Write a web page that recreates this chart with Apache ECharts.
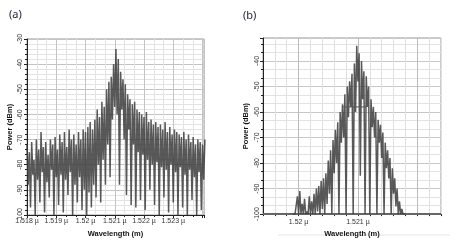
<!DOCTYPE html>
<html>
<head>
<meta charset="utf-8">
<script src="https://cdn.jsdelivr.net/npm/echarts@6/dist/echarts.min.js"></script>
<style>
  html, body { margin: 0; padding: 0; background: #fff; }
  #main { width: 461px; height: 243px; }
</style>
</head>
<body>
<div id="main"></div>
<script>
// panel (a): spectrum sampled from 1.518 µm, step 0.04 nm
var aStart = 1.518;
var aStep = 0.00004;
var aPower = [
  -72,-88,-75,-97,-71,-84,-78,-100,-70,-86,-74,-95,-67,-83,-73,-99,-71,-87,-76,-93,-70,-82,-72,-100,-69,-85,-74,
  -96,-68,-84,-71,-99,-67,-86,-73,-92,-66,-83,-70,-100,-68,-88,-72,-95,-67,-85,-70,-98,-66,-90,-67,
  -100,-65,-91,-63,-97,-66,-88,-62,
  -93,-58,-80,-61,-95,-55,-78,-57,
  -88,-50,-72,-47,-85,-45,
  -62,-40,-57,-34,-60,
  -38,-88,-43,-58,-46,-70,-48,
  -92,-52,-66,-54,-96,-56,-72,-55,-97,-58,-75,
  -59,-94,-60,-76,-61,-98,-59,-78,-63,-90,-62,-80,-64,-96,-63,
  -79,-65,-100,-64,-81,-66,-93,-63,-82,-67,-99,-65,-80,-68,-95,-66,-83,-67,-100,-68,
  -81,-69,-97,-67,-84,-70,-100,-68,-82,-71,-94,-69,-85,-72,-100,-70,-83,-71,-98,-72,-86,-70
];
var aTickLabels = ['1.518 µ', '1.519 µ', '1.52 µ', '1.521 µ', '1.522 µ', '1.523 µ'];
var aTickValues = [1.518, 1.519, 1.520, 1.521, 1.522, 1.523];

// panel (b): spectrum sampled from 1.5199 µm, step 0.02 nm
var bStart = 1.5199;
var bStep = 0.00002;
var bPower = [
  -100,-100,-100,-100,
  -93,-100,-91,-100,-96,-100,-94,-100,-99,-100,-93,
  -100,-95,-100,-92,-100,-90,-99,-89,-100,-87,-98,-86,-100,-84,-96,
  -79,-92,-75,-100,-71,-84,-67,-80,-64,-100,-60,
  -72,-57,-70,-53,-100,-50,-62,-48,-58,-45,
  -100,-41,-60,-34,-48,-37,-85,-40,-55,-44,-100,-46,
  -58,-50,-100,-55,-66,-58,-70,-60,-100,-63,-72,
  -65,-78,-68,-100,-72,-82,-75,-86,-78,-100,-82,-92,
  -86,-97,-90,-100,-95,-100,-98,-100,-100,-100
];
var bPlateauX = [1.52074, 1.52114];
var bPlateauY = [-58, -58];
var bFloor = -100;
var bTickLabels = ['1.52 µ', '1.521 µ'];
var bTickValues = [1.520, 1.521];

var yTicks = [-30, -40, -50, -60, -70, -80, -90, -100];

function toXY(start, step, vals) {
  return vals.map(function (v, i) { return [start + i * step, v]; });
}
function labelFor(values, labels) {
  return function (v) {
    for (var i = 0; i < values.length; i++) {
      if (Math.abs(v - values[i]) < 1e-7) return labels[i];
    }
    return '';
  };
}

var chart = echarts.init(document.getElementById('main'));
var axisTxt = { color: '#333', fontSize: 7, fontFamily: 'Liberation Sans' };
var nameTxt = { color: '#111', fontSize: 7.5, fontWeight: 'bold', fontFamily: 'Liberation Sans' };

var option = {
  animation: false,
  backgroundColor: '#fff',
  title: [
    { text: '(a)', left: 4, top: 4, textStyle: { fontSize: 11, fontWeight: 'normal', color: '#1e1e30', fontFamily: 'Noto Sans' } },
    { text: '(b)', left: 238, top: 5, textStyle: { fontSize: 11, fontWeight: 'normal', color: '#1e1e30', fontFamily: 'Noto Sans' } }
  ],
  grid: [
    { left: 27, right: 257, top: 39, bottom: 26, show: true, borderColor: '#999', borderWidth: 1 },
    { left: 263, right: 20, top: 38, bottom: 28, show: true, borderColor: '#999', borderWidth: 1 }
  ],
  xAxis: [
    {
      gridIndex: 0, type: 'value', min: 1.518, max: 1.52405, interval: 0.001,
      name: 'Wavelength (m)', nameLocation: 'middle', nameGap: 15, nameTextStyle: nameTxt,
      axisLine: { lineStyle: { color: '#222' } },
      axisTick: { length: 3, lineStyle: { color: '#222' } },
      minorTick: { show: true, splitNumber: 3, length: 2, lineStyle: { color: '#222' } },
      axisLabel: Object.assign({ margin: 3, formatter: labelFor(aTickValues, aTickLabels) }, axisTxt),
      splitLine: { show: true, lineStyle: { color: '#c4c4c4', width: 1 } },
      minorSplitLine: { show: true, lineStyle: { color: '#e3e3e3', width: 1 } }
    },
    {
      gridIndex: 1, type: 'value', min: 1.5194, max: 1.5224, interval: 0.0002,
      name: 'Wavelength (m)', nameLocation: 'middle', nameGap: 15, nameTextStyle: nameTxt,
      axisLine: { lineStyle: { color: '#222' } },
      axisTick: { length: 2, lineStyle: { color: '#222' } },
      axisLabel: Object.assign({ margin: 4, formatter: labelFor(bTickValues, bTickLabels) }, axisTxt),
      splitLine: { show: true, lineStyle: { color: ['#e0e0e0', '#e0e0e0', '#e0e0e0', '#bcbcbc', '#e0e0e0'], width: 1 } }
    }
  ],
  yAxis: [
    {
      gridIndex: 0, type: 'value', min: -100, max: -30, interval: 10,
      name: 'Power (dBm)', nameLocation: 'middle', nameGap: 13, nameTextStyle: nameTxt,
      axisLine: { show: true, lineStyle: { color: '#222' } },
      axisTick: { show: true, length: 3, lineStyle: { color: '#222' } },
      minorTick: { show: true, splitNumber: 5, length: 2, lineStyle: { color: '#222' } },
      axisLabel: Object.assign({ margin: 3, rotate: 90, formatter: function (v) { return yTicks.indexOf(v) >= 0 ? String(v) : ''; } }, axisTxt),
      splitLine: { show: true, lineStyle: { color: '#c4c4c4', width: 1 } },
      minorSplitLine: { show: true, lineStyle: { color: '#e3e3e3', width: 1 } }
    },
    {
      gridIndex: 1, type: 'value', min: -100, max: -31, interval: 10,
      name: 'Power (dBm)', nameLocation: 'middle', nameGap: 13, nameTextStyle: nameTxt,
      axisLine: { show: true, lineStyle: { color: '#222' } },
      axisTick: { show: true, length: 3, lineStyle: { color: '#222' } },
      minorTick: { show: true, splitNumber: 3, length: 2, lineStyle: { color: '#222' } },
      axisLabel: Object.assign({ margin: 2, rotate: 90, formatter: function (v) { return yTicks.indexOf(v) >= 0 ? String(v) : ''; } }, axisTxt),
      splitLine: { show: true, lineStyle: { color: '#c8c8c8', width: 1 } },
      minorSplitLine: { show: true, lineStyle: { color: '#e3e3e3', width: 1 } }
    }
  ],
  series: [
    {
      type: 'line', xAxisIndex: 0, yAxisIndex: 0, symbol: 'none',
      data: toXY(aStart, aStep, aPower),
      lineStyle: { color: '#3c3c3c', width: 1.5, opacity: 0.85 }
    },
    {
      type: 'line', xAxisIndex: 1, yAxisIndex: 1, symbol: 'none',
      data: [[1.5194, bFloor], [1.5224, bFloor]],
      lineStyle: { color: '#666', width: 2 }
    },
    {
      type: 'line', xAxisIndex: 1, yAxisIndex: 1, symbol: 'none',
      data: toXY(bStart, bStep, bPower),
      lineStyle: { color: '#3c3c3c', width: 1.5, opacity: 0.85 }
    },
    {
      type: 'line', xAxisIndex: 1, yAxisIndex: 1, symbol: 'none',
      data: bPlateauX.map(function (x, i) { return [x, bPlateauY[i]]; }),
      lineStyle: { color: '#555', width: 1 }
    }
  ],
  graphic: [
    { type: 'line', shape: { x1: 278, y1: 235, x2: 450, y2: 235 }, style: { stroke: '#e6e6e6', lineWidth: 1 } }
  ]
};
chart.setOption(option);
</script>
</body>
</html>
